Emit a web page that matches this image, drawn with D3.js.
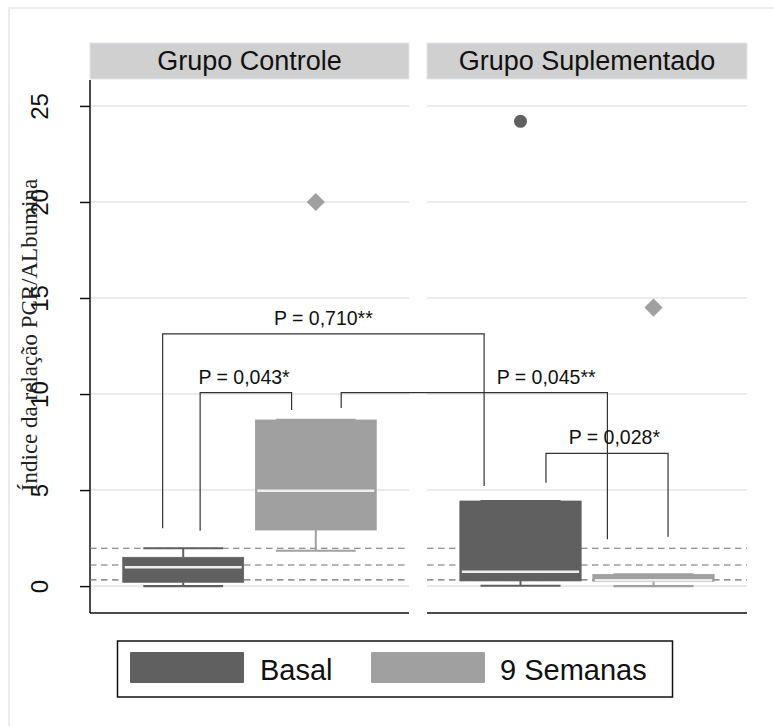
<!DOCTYPE html>
<html>
<head>
<meta charset="utf-8">
<script src="https://cdn.jsdelivr.net/npm/d3@7"></script>
<style>
  html, body { margin: 0; padding: 0; background: #fff; }
  svg { display: block; }
</style>
</head>
<body>
<script>
// ---------------- data ----------------
const panels = ["Grupo Controle", "Grupo Suplementado"];
const groups = ["Basal", "9 Semanas"];
const groupColors = ["#606060", "#a0a0a0"];
const yTicks = [0, 5, 10, 15, 20, 25];
const yTitle = "Índice da relação PCR/ALbumina";

// box stats per panel x group: [lowWhisker, q1, median, q3, highWhisker]
const statsControle = [[0.0, 0.20, 0.98, 1.50, 1.97], [1.84, 2.92, 4.97, 8.65, 8.65]];
const statsSuplementado = [[0.02, 0.27, 0.75, 4.43, 4.43], [0.0, 0.25, 0.30, 0.61, 0.61]];
const outliersControle = [[], [20.0]];
const outliersSuplementado = [[24.2], [14.5]];

// reference dashed lines
const refLines = [1.97, 1.10, 0.32];

// significance brackets: [panel, group, offset(band units)] for each leg
const bracketLabels = ["P = 0,710**", "P = 0,043*", "P = 0,045**", "P = 0,028*"];
const bracketLeft = [[0, 0, -0.17], [0, 0, 0.14], [0, 1, 0.21], [1, 0, 0.21]];
const bracketRight = [[1, 0, -0.30], [0, 1, -0.20], [1, 1, -0.38], [1, 1, 0.12]];
const bracketTop = [13.13, 10.07, 10.07, 6.91];
const bracketLeftEnd = [3.01, 2.88, 9.27, 5.38];
const bracketRightEnd = [5.21, 9.17, 2.44, 2.57];
const bracketLabelPos = [0.5, 0.48, 0.77, 0.56];

// ---------------- layout ----------------
const W = 774, H = 726;
const panelX = [90, 427];
const panelW = [319, 320];
const plotTop = 80, plotBottom = 613;

const svg = d3.select("body").append("svg").attr("width", W).attr("height", H);

// outer light frame
svg.append("rect").attr("x", 9).attr("y", 8).attr("width", 790).attr("height", 740)
  .attr("fill", "none").attr("stroke", "#ececec").attr("stroke-width", 2);

const y = d3.scaleLinear().domain([-1.4, 26.35]).range([plotBottom, plotTop]);

const xBand = panels.map((p, i) => d3.scaleBand().domain(groups)
  .range([panelX[i], panelX[i] + panelW[i]]).paddingInner(0.088).paddingOuter(0.247));

function legX(spec) {
  const sc = xBand[spec[0]];
  const g = groups[spec[1]];
  return sc(g) + sc.bandwidth() / 2 + spec[2] * sc.bandwidth();
}

const allStats = [statsControle, statsSuplementado];
const allOut = [outliersControle, outliersSuplementado];

panels.forEach((p, i) => {
  const g = svg.append("g");
  const x0 = panelX[i], x1 = panelX[i] + panelW[i];
  // strip
  g.append("rect").attr("x", x0).attr("y", 43).attr("width", panelW[i]).attr("height", 36)
    .attr("fill", "#d0d0d0").attr("stroke", "#dce8ef").attr("stroke-width", 1);
  g.append("text").attr("x", (x0 + x1) / 2).attr("y", 69.5).attr("text-anchor", "middle")
    .attr("font-family", "Liberation Sans, Arial, sans-serif").attr("font-size", 27)
    .attr("fill", "#111").text(p);
  // gridlines
  g.selectAll(".grid").data(yTicks).enter().append("line")
    .attr("x1", x0).attr("x2", x1).attr("y1", d => y(d)).attr("y2", d => y(d))
    .attr("stroke", "#e6e6e6").attr("stroke-width", 1.6);
  // bottom axis line
  g.append("line").attr("x1", x0).attr("x2", x1).attr("y1", plotBottom).attr("y2", plotBottom)
    .attr("stroke", "#111").attr("stroke-width", 1.5);
});

// left y axis
const yAxis = d3.axisLeft(y).tickValues(yTicks).tickSize(10).tickFormat(d3.format("d"));
const ax = svg.append("g").attr("transform", `translate(${panelX[0]},0)`).call(yAxis);
ax.select(".domain").remove();
ax.append("line").attr("x1", 0).attr("x2", 0).attr("y1", plotTop).attr("y2", plotBottom)
  .attr("stroke", "#111").attr("stroke-width", 1.5);
ax.selectAll(".tick line").attr("stroke", "#111").attr("stroke-width", 1.5);
ax.selectAll(".tick text")
  .attr("font-family", "Liberation Sans, Arial, sans-serif").attr("font-size", 24)
  .attr("fill", "#111")
  .attr("x", null).attr("dy", null)
  .attr("text-anchor", "middle")
  .attr("transform", "translate(-42,0) rotate(-90)");

// y title
svg.append("text").attr("transform", "translate(37,335) rotate(-90)")
  .attr("text-anchor", "middle")
  .attr("font-family", "Liberation Serif, Times New Roman, serif").attr("font-size", 23)
  .attr("fill", "#222").text(yTitle);

// reference dashed lines
panels.forEach((p, i) => {
  svg.selectAll(null).data(refLines).enter().append("line")
    .attr("x1", panelX[i]).attr("x2", panelX[i] + panelW[i])
    .attr("y1", d => y(d)).attr("y2", d => y(d))
    .attr("stroke", "#707070").attr("stroke-width", 1.2).attr("stroke-dasharray", "6.5,4.5");
});

// boxes
panels.forEach((p, i) => {
  const sc = xBand[i];
  const bw = sc.bandwidth();
  groups.forEach((gname, j) => {
    const s = allStats[i][j];
    const col = groupColors[j];
    const cx = sc(gname) + bw / 2;
    const cap = bw * 0.66;
    const g = svg.append("g");
    // whiskers
    g.append("line").attr("x1", cx).attr("x2", cx).attr("y1", y(s[0])).attr("y2", y(s[1]))
      .attr("stroke", col).attr("stroke-width", 2);
    g.append("line").attr("x1", cx).attr("x2", cx).attr("y1", y(s[3])).attr("y2", y(s[4]))
      .attr("stroke", col).attr("stroke-width", 2);
    g.append("line").attr("x1", cx - cap / 2).attr("x2", cx + cap / 2).attr("y1", y(s[0])).attr("y2", y(s[0]))
      .attr("stroke", col).attr("stroke-width", 2.2);
    g.append("line").attr("x1", cx - cap / 2).attr("x2", cx + cap / 2).attr("y1", y(s[4])).attr("y2", y(s[4]))
      .attr("stroke", col).attr("stroke-width", 2.2);
    // box
    g.append("rect").attr("x", sc(gname)).attr("width", bw)
      .attr("y", y(s[3])).attr("height", Math.max(1, y(s[1]) - y(s[3])))
      .attr("fill", col).attr("stroke", col).attr("stroke-width", 0.8);
    // median
    g.append("line").attr("x1", sc(gname) + 2).attr("x2", sc(gname) + bw - 2)
      .attr("y1", y(s[2])).attr("y2", y(s[2]))
      .attr("stroke", "#eeeeee").attr("stroke-width", 2.5);
    // outliers
    allOut[i][j].forEach(v => {
      if (j === 0) {
        g.append("circle").attr("cx", cx).attr("cy", y(v)).attr("r", 6.5).attr("fill", col);
      } else {
        g.append("path").attr("d", d3.symbol().type(d3.symbolSquare).size(165)())
          .attr("transform", `translate(${cx},${y(v)}) rotate(45)`).attr("fill", col);
      }
    });
  });
});

// brackets
bracketLabels.forEach((lab, k) => {
  const xl = legX(bracketLeft[k]);
  const xr = legX(bracketRight[k]);
  const yt = y(bracketTop[k]);
  svg.append("path")
    .attr("d", `M${xl},${y(bracketLeftEnd[k])}V${yt}H${xr}V${y(bracketRightEnd[k])}`)
    .attr("fill", "none").attr("stroke", "#333").attr("stroke-width", 1.2);
  svg.append("text").attr("x", xl + (xr - xl) * bracketLabelPos[k]).attr("y", yt - 9)
    .attr("text-anchor", "middle")
    .attr("font-family", "Liberation Sans, Arial, sans-serif").attr("font-size", 19.5)
    .attr("fill", "#111").text(lab);
});

// legend
const lg = svg.append("g");
lg.append("rect").attr("x", 117.5).attr("y", 641).attr("width", 555).attr("height", 56)
  .attr("fill", "#fff").attr("stroke", "#111").attr("stroke-width", 1.5);
const legSwX = [130, 371];
const legTxX = [260, 500];
groups.forEach((gname, j) => {
  lg.append("rect").attr("x", legSwX[j]).attr("y", 652).attr("width", 114).attr("height", 31)
    .attr("fill", groupColors[j]).attr("rx", 1);
  lg.append("text").attr("x", legTxX[j]).attr("y", 680)
    .attr("font-family", "Liberation Sans, Arial, sans-serif").attr("font-size", 29)
    .attr("fill", "#111").text(gname);
});
</script>
</body>
</html>
